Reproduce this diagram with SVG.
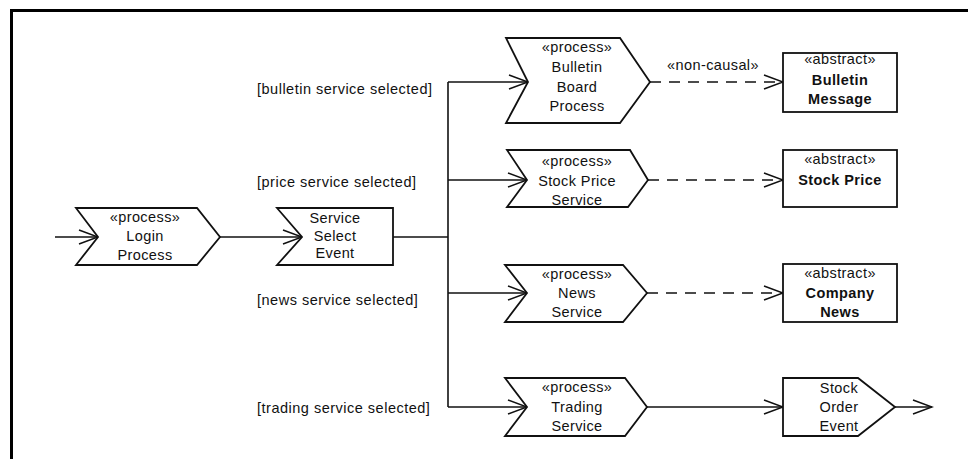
<svg xmlns="http://www.w3.org/2000/svg" width="968" height="459" viewBox="0 0 968 459">
<defs>
<marker id="open" markerUnits="userSpaceOnUse" markerWidth="22" markerHeight="18" refX="20" refY="8" orient="auto">
<path d="M1,1 L20,8 L1,15" fill="none" stroke="#111" stroke-width="1.6"/>
</marker>
</defs>
<style>
.shape{fill:#fff;stroke:#111;stroke-width:1.8}
.t{font-family:"Liberation Sans",Arial,sans-serif;font-size:14.5px;letter-spacing:0.4px;fill:#111;text-anchor:middle}
.b{font-weight:bold}
.lbl{font-family:"Liberation Sans",Arial,sans-serif;font-size:14.5px;letter-spacing:0.5px;fill:#111}
.ln{fill:none;stroke:#111;stroke-width:1.6}
.dash{stroke-dasharray:11 8}
</style>
<rect width="968" height="459" fill="#fff"/>
<path d="M11.5,459 V10.5 H968" fill="none" stroke="#000" stroke-width="3"/>

<g id="connectors">
<line class="ln" x1="55" y1="237" x2="98" y2="237" marker-end="url(#open)"/>
<line class="ln" x1="220" y1="237" x2="302" y2="237" marker-end="url(#open)"/>
<line class="ln" x1="393" y1="237" x2="448" y2="237"/>
<line class="ln" x1="448" y1="82" x2="448" y2="407"/>
<line class="ln" x1="448" y1="82" x2="528" y2="82" marker-end="url(#open)"/>
<line class="ln" x1="448" y1="180" x2="527" y2="180" marker-end="url(#open)"/>
<line class="ln" x1="448" y1="293" x2="527" y2="293" marker-end="url(#open)"/>
<line class="ln" x1="448" y1="407" x2="527" y2="407" marker-end="url(#open)"/>
<line class="ln dash" x1="650" y1="82" x2="783" y2="82" marker-end="url(#open)"/>
<line class="ln dash" x1="648" y1="180" x2="783" y2="180" marker-end="url(#open)"/>
<line class="ln dash" x1="647" y1="293" x2="783" y2="293" marker-end="url(#open)"/>
<line class="ln" x1="647" y1="407" x2="783" y2="407" marker-end="url(#open)"/>
<line class="ln" x1="895" y1="407" x2="932" y2="407" marker-end="url(#open)"/>
<text class="t" x="713" y="70">«non-causal»</text>
<text class="lbl" x="257" y="94">[bulletin service selected]</text>
<text class="lbl" x="257" y="187">[price service selected]</text>
<text class="lbl" x="257" y="305">[news service selected]</text>
<text class="lbl" x="257" y="413">[trading service selected]</text>
</g>

<g id="login-process">
<polygon class="shape" points="76,208 197,208 220,237 197,265 76,265 98,237"/>
<text class="t" x="145" y="222">«process»</text>
<text class="t" x="145" y="241">Login</text>
<text class="t" x="145" y="260">Process</text>
</g>

<g id="service-select-event">
<polygon class="shape" points="277,208 393,208 393,265 277,265 302,237"/>
<text class="t" x="335" y="223">Service</text>
<text class="t" x="335" y="241">Select</text>
<text class="t" x="335" y="258">Event</text>
</g>

<g id="bulletin-board-process">
<polygon class="shape" points="506,38 620,38 650,82 620,123 506,123 528,82"/>
<text class="t" x="577" y="52">«process»</text>
<text class="t" x="577" y="72">Bulletin</text>
<text class="t" x="577" y="92">Board</text>
<text class="t" x="577" y="111">Process</text>
</g>

<g id="stock-price-service">
<polygon class="shape" points="507,150 630,150 648,180 628,207 507,207 527,180"/>
<text class="t" x="577" y="166">«process»</text>
<text class="t" x="577" y="186">Stock Price</text>
<text class="t" x="577" y="205">Service</text>
</g>

<g id="news-service">
<polygon class="shape" points="505,265 623,265 647,293 623,322 505,322 527,293"/>
<text class="t" x="577" y="279">«process»</text>
<text class="t" x="577" y="298">News</text>
<text class="t" x="577" y="317">Service</text>
</g>

<g id="trading-service">
<polygon class="shape" points="505,378 625,378 647,407 625,436 505,436 527,407"/>
<text class="t" x="577" y="392">«process»</text>
<text class="t" x="577" y="412">Trading</text>
<text class="t" x="577" y="431">Service</text>
</g>

<g id="bulletin-message">
<rect class="shape" x="783" y="53" width="114" height="59"/>
<text class="t" x="840" y="64">«abstract»</text>
<text class="t b" x="840" y="85">Bulletin</text>
<text class="t b" x="840" y="104">Message</text>
</g>

<g id="stock-price">
<rect class="shape" x="783" y="150" width="114" height="57"/>
<text class="t" x="840" y="164">«abstract»</text>
<text class="t b" x="840" y="185">Stock Price</text>
</g>

<g id="company-news">
<rect class="shape" x="783" y="264" width="114" height="58"/>
<text class="t" x="840" y="278">«abstract»</text>
<text class="t b" x="840" y="298">Company</text>
<text class="t b" x="840" y="317">News</text>
</g>

<g id="stock-order-event">
<polygon class="shape" points="783,378 858,378 895,407 858,436 783,436"/>
<text class="t" x="839" y="393">Stock</text>
<text class="t" x="839" y="412">Order</text>
<text class="t" x="839" y="431">Event</text>
</g>
</svg>
